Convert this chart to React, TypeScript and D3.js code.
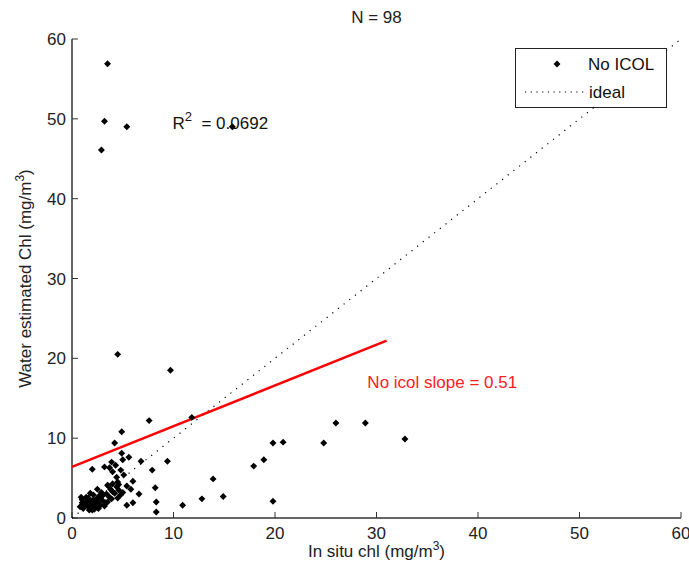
import React, { useRef, useEffect } from 'react';
import * as d3 from 'd3';

// in situ chl (x) vs water estimated chl (y)
const inSitu = [
  3.5, 3.2, 5.4, 2.9, 15.8, 4.5, 9.7, 7.6, 11.8, 4.9,
  4.2, 4.9, 5.6, 5.0, 6.8, 9.4, 7.9, 2.0, 3.2, 3.7,
  4.0, 4.4, 6.0, 4.5, 3.5, 4.4, 4.0, 5.4, 5.8, 6.6,
  8.2, 2.5, 3.1, 3.7, 4.5, 2.1, 1.6, 1.0, 1.3, 1.8,
  2.5, 2.8, 0.8, 1.1, 1.6, 2.0, 2.3, 2.8, 3.3, 3.9,
  5.4, 6.0, 8.3, 8.3, 10.9, 12.8, 13.9, 14.9, 17.9, 18.9,
  19.8, 20.8, 19.8, 24.8, 26.0, 28.9, 32.8, 3.6, 4.2, 4.6,
  1.2, 1.5, 1.9, 2.2, 2.6, 1.7, 2.4, 3.0, 3.5, 1.4,
  2.9, 3.4, 4.0, 4.6, 4.8, 4.3, 3.9, 5.1, 2.2, 1.0,
  0.9, 3.8, 4.8, 3.2, 2.0, 2.7, 5.0, 1.8
];
const waterEst = [
  56.9, 49.7, 49.0, 46.1, 49.0, 20.5, 18.5, 12.2, 12.6, 10.8,
  9.4, 8.1, 7.6, 7.3, 7.1, 7.1, 6.0, 6.1, 6.4, 6.3,
  5.8, 5.1, 4.6, 4.5, 4.1, 3.9, 3.3, 4.0, 3.6, 3.0,
  3.8, 3.6, 2.9, 2.6, 2.5, 2.9, 2.5, 2.3, 1.8, 2.0,
  2.0, 2.5, 1.4, 1.2, 1.4, 1.0, 1.4, 1.6, 1.9, 2.4,
  1.6, 1.9, 2.0, 0.75, 1.6, 2.4, 4.9, 2.7, 6.5, 7.3,
  9.4, 9.5, 2.1, 9.4, 11.9, 11.9, 9.9, 4.0, 3.1, 3.5,
  1.6, 2.1, 1.6, 1.8, 1.2, 1.0, 2.4, 2.2, 2.0, 2.6,
  3.2, 3.0, 4.3, 4.2, 6.0, 6.6, 7.0, 5.4, 1.1, 1.9,
  2.6, 3.6, 2.9, 1.5, 2.2, 2.8, 3.2, 3.1
];

const xTicks = [0, 10, 20, 30, 40, 50, 60];
const yTicks = [0, 10, 20, 30, 40, 50, 60];

// fit line
const fitSlope = 0.51;
const fitIntercept = 6.4;
const fitRange = [0, 31];
const ideal = [0, 60];

const W = 689, H = 577;
const FONT = '"Liberation Sans", Arial, sans-serif';
const FS = 17;

function App() {
  const ref = useRef<SVGSVGElement>(null);

  useEffect(() => {
    if (!ref.current) return;
    const svg = d3.select(ref.current);
    svg.selectAll('*').remove();

    const x = d3.scaleLinear().domain([0, 60]).range([72, 681]);
    const y = d3.scaleLinear().domain([0, 60]).range([518, 39]);

    // axes, ticks pointing inward like matlab
    const ax = svg.append('g').attr('font-family', FONT).attr('font-size', FS);
    ax.append('line').attr('x1', x(0)).attr('x2', x(60)).attr('y1', y(0)).attr('y2', y(0))
      .attr('stroke', '#333').attr('stroke-width', 1.5);
    ax.append('line').attr('x1', x(0)).attr('x2', x(0)).attr('y1', y(0)).attr('y2', y(60))
      .attr('stroke', '#333').attr('stroke-width', 1.5);

    xTicks.forEach(t => {
      ax.append('line').attr('x1', x(t)).attr('x2', x(t)).attr('y1', y(0)).attr('y2', y(0) - 6)
        .attr('stroke', '#333');
      ax.append('text').attr('x', x(t)).attr('y', y(0) + 21).attr('text-anchor', 'middle')
        .attr('fill', '#222').text(t);
    });
    yTicks.forEach(t => {
      ax.append('line').attr('x1', x(0)).attr('x2', x(0) + 6).attr('y1', y(t)).attr('y2', y(t))
        .attr('stroke', '#333');
      ax.append('text').attr('x', x(0) - 6).attr('y', y(t) + 6).attr('text-anchor', 'end')
        .attr('fill', '#222').text(t);
    });

    // axis labels
    const xl = ax.append('text').attr('x', (x(0) + x(60)) / 2).attr('y', 557)
      .attr('text-anchor', 'middle').attr('fill', '#222');
    xl.append('tspan').text('In situ chl (mg/m');
    xl.append('tspan').attr('dy', -7).attr('font-size', 12).text('3');
    xl.append('tspan').attr('dy', 7).text(')');

    const yl = ax.append('text')
      .attr('transform', `translate(31,${(y(0) + y(60)) / 2}) rotate(-90)`)
      .attr('text-anchor', 'middle').attr('fill', '#222');
    yl.append('tspan').text('Water estimated Chl (mg/m');
    yl.append('tspan').attr('dy', -7).attr('font-size', 12).text('3');
    yl.append('tspan').attr('dy', 7).text(')');

    ax.append('text').attr('x', (x(0) + x(60)) / 2).attr('y', 23).attr('text-anchor', 'middle')
      .attr('fill', '#222').text('N = 98');

    // ideal 1:1 line
    svg.append('line')
      .attr('x1', x(ideal[0])).attr('y1', y(ideal[0]))
      .attr('x2', x(ideal[1])).attr('y2', y(ideal[1]))
      .attr('stroke', '#000').attr('stroke-width', 1.2).attr('stroke-dasharray', '1.2,6');

    // regression line
    svg.append('line')
      .attr('x1', x(fitRange[0])).attr('y1', y(fitIntercept + fitSlope * fitRange[0]))
      .attr('x2', x(fitRange[1])).attr('y2', y(fitIntercept + fitSlope * fitRange[1]))
      .attr('stroke', '#ff0000').attr('stroke-width', 2.5);

    // points: square turned 45deg gives the matlab diamond
    const diamond = d3.symbol().type(d3.symbolSquare).size(24);
    svg.append('g').selectAll('path')
      .data(inSitu.map((v, i) => [v, waterEst[i]]))
      .join('path')
      .attr('transform', d => `translate(${x(d[0])},${y(d[1])}) rotate(45)`)
      .attr('d', diamond)
      .attr('fill', '#000');

    // annotations
    const r2 = svg.append('text').attr('x', x(9.9)).attr('y', y(49) + 2)
      .attr('font-family', FONT).attr('font-size', FS).attr('fill', '#111')
      .attr('xml:space', 'preserve');
    r2.append('tspan').text('R');
    r2.append('tspan').attr('dy', -8).attr('font-size', 13).text('2');
    r2.append('tspan').attr('dy', 8).text('  = 0.0692');

    svg.append('text').attr('x', x(29.1)).attr('y', y(17) + 6)
      .attr('font-family', FONT).attr('font-size', FS).attr('fill', '#ff2020')
      .text('No icol slope = 0.51');

    // legend
    const lg = svg.append('g').attr('font-family', FONT).attr('font-size', FS);
    lg.append('rect').attr('x', 515.5).attr('y', 48.5).attr('width', 151).attr('height', 59)
      .attr('fill', '#fff').attr('stroke', '#222');
    lg.append('path').attr('transform', 'translate(557,64) rotate(45)').attr('d', diamond).attr('fill', '#000');
    lg.append('text').attr('x', 588).attr('y', 70).attr('fill', '#111').text('No ICOL');
    lg.append('line').attr('x1', 525).attr('x2', 587).attr('y1', 92).attr('y2', 92)
      .attr('stroke', '#000').attr('stroke-width', 1.2).attr('stroke-dasharray', '1.2,4.5');
    lg.append('text').attr('x', 589).attr('y', 98).attr('fill', '#111').text('ideal');
  }, []);

  return (
    <svg
      ref={ref}
      width={W}
      height={H}
      style={{ position: 'absolute', left: 0, top: 0, background: '#fff' }}
    />
  );
}

export default App;
